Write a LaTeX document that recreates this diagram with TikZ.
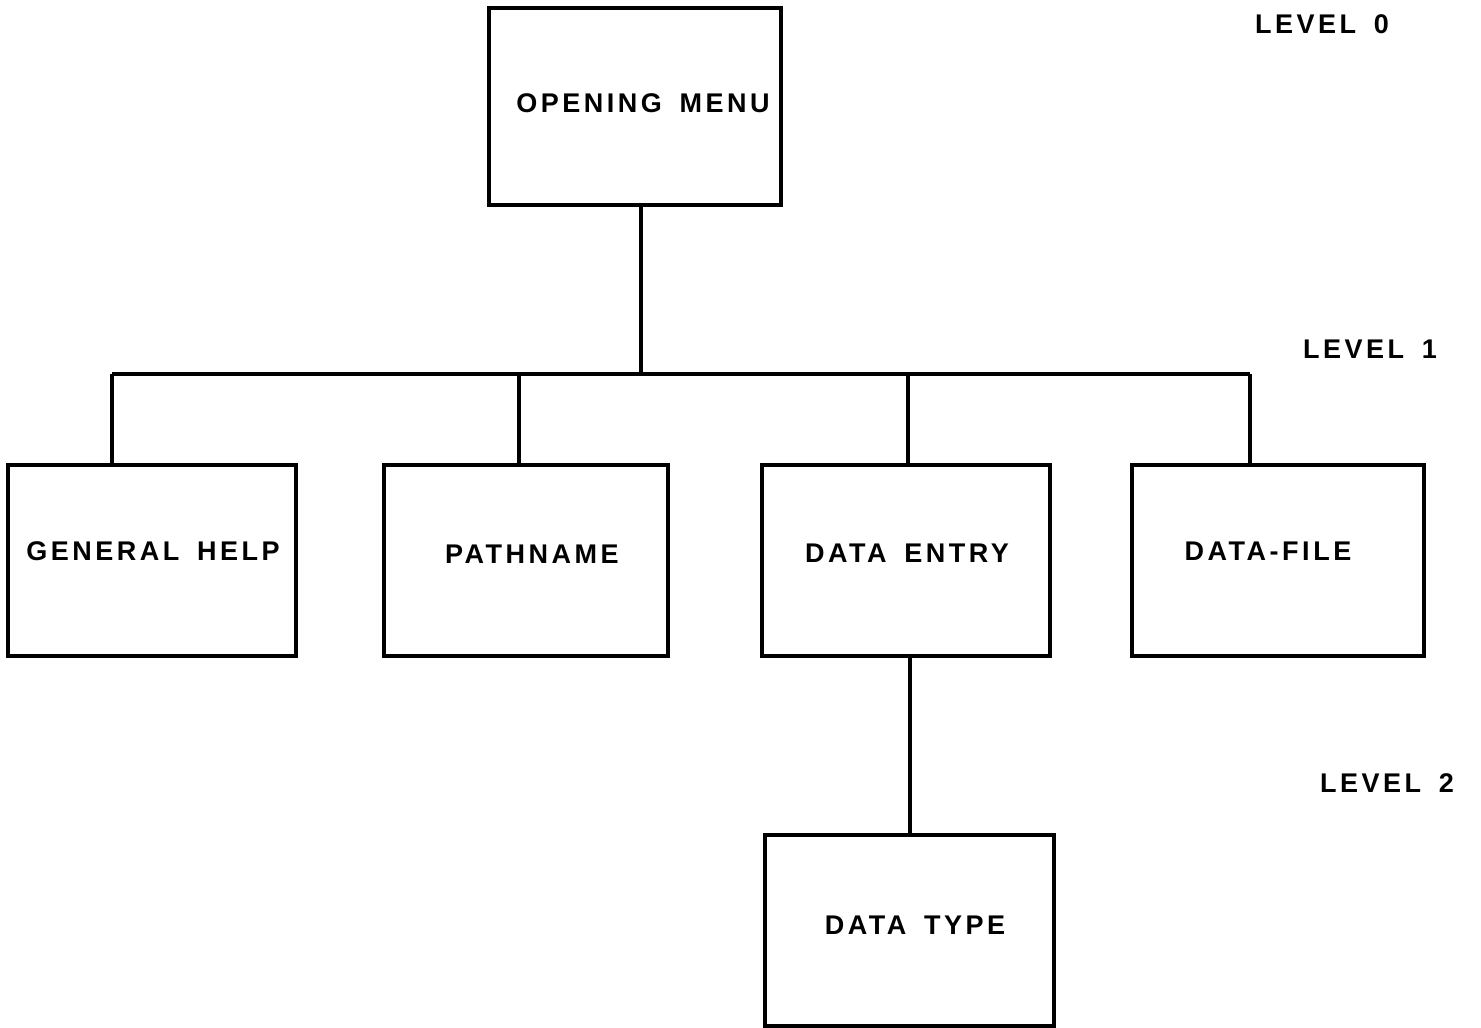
\documentclass[tikz,border=0pt]{standalone}
\usepackage{fontspec}
\setmainfont{Liberation Sans}
\newfontfamily\lblfont[LetterSpace=13,WordSpace=1.6]{Liberation Sans Bold}
\begin{document}
\begin{tikzpicture}[x=1pt,y=-1pt,
  box/.style={draw,line width=3.2pt,rectangle,inner sep=0pt},
  txt/.style={font=\lblfont\fontsize{27}{31}\selectfont,inner sep=0pt},
  conn/.style={line width=3.2pt}]
\useasboundingbox (0,0) rectangle (1481,1028);
% boxes
\node[box,minimum width=292pt,minimum height=197pt] (om) at (635,106.5) {};
\node[box,minimum width=288pt,minimum height=191pt] (gh) at (152,560.5) {};
\node[box,minimum width=284pt,minimum height=191pt] (pn) at (526,560.5) {};
\node[box,minimum width=288pt,minimum height=191pt] (de) at (906,560.5) {};
\node[box,minimum width=292pt,minimum height=191pt] (df) at (1278,560.5) {};
\node[box,minimum width=289pt,minimum height=191pt] (dt) at (909.5,930.5) {};
% texts
\node[txt] (tom) at (643,103) {OPENING MENU};
\node[txt] (tgh) at (153,551) {GENERAL HELP};
\node[txt] (tpn) at (532,554) {PATHNAME};
\node[txt] (tde) at (907,553) {DATA ENTRY};
\node[txt] (tdf) at (1268,551) {DATA-FILE};
\node[txt] (tdt) at (915,925) {DATA TYPE};
\node[txt] (l0) at (1322,24) {LEVEL 0};
\node[txt] (l1) at (1370,349) {LEVEL 1};
\node[txt] (l2) at (1387,783) {LEVEL 2};
% junctions
\coordinate (j0) at (641,374);
\coordinate (ja) at (112,374);
\coordinate (jb) at (519,374);
\coordinate (jc) at (908,374);
\coordinate (jd) at (1250,374);
\coordinate (je) at (910,656);
\draw[conn] (om.south -| j0) -- (j0);
\draw[conn] (ja) -- (jd);
\draw[conn] (ja) -- (ja |- gh.north);
\draw[conn] (jb) -- (jb |- pn.north);
\draw[conn] (jc) -- (jc |- de.north);
\draw[conn] (jd) -- (jd |- df.north);
\draw[conn] (je) -- (je |- dt.north);
\end{tikzpicture}
\end{document}
